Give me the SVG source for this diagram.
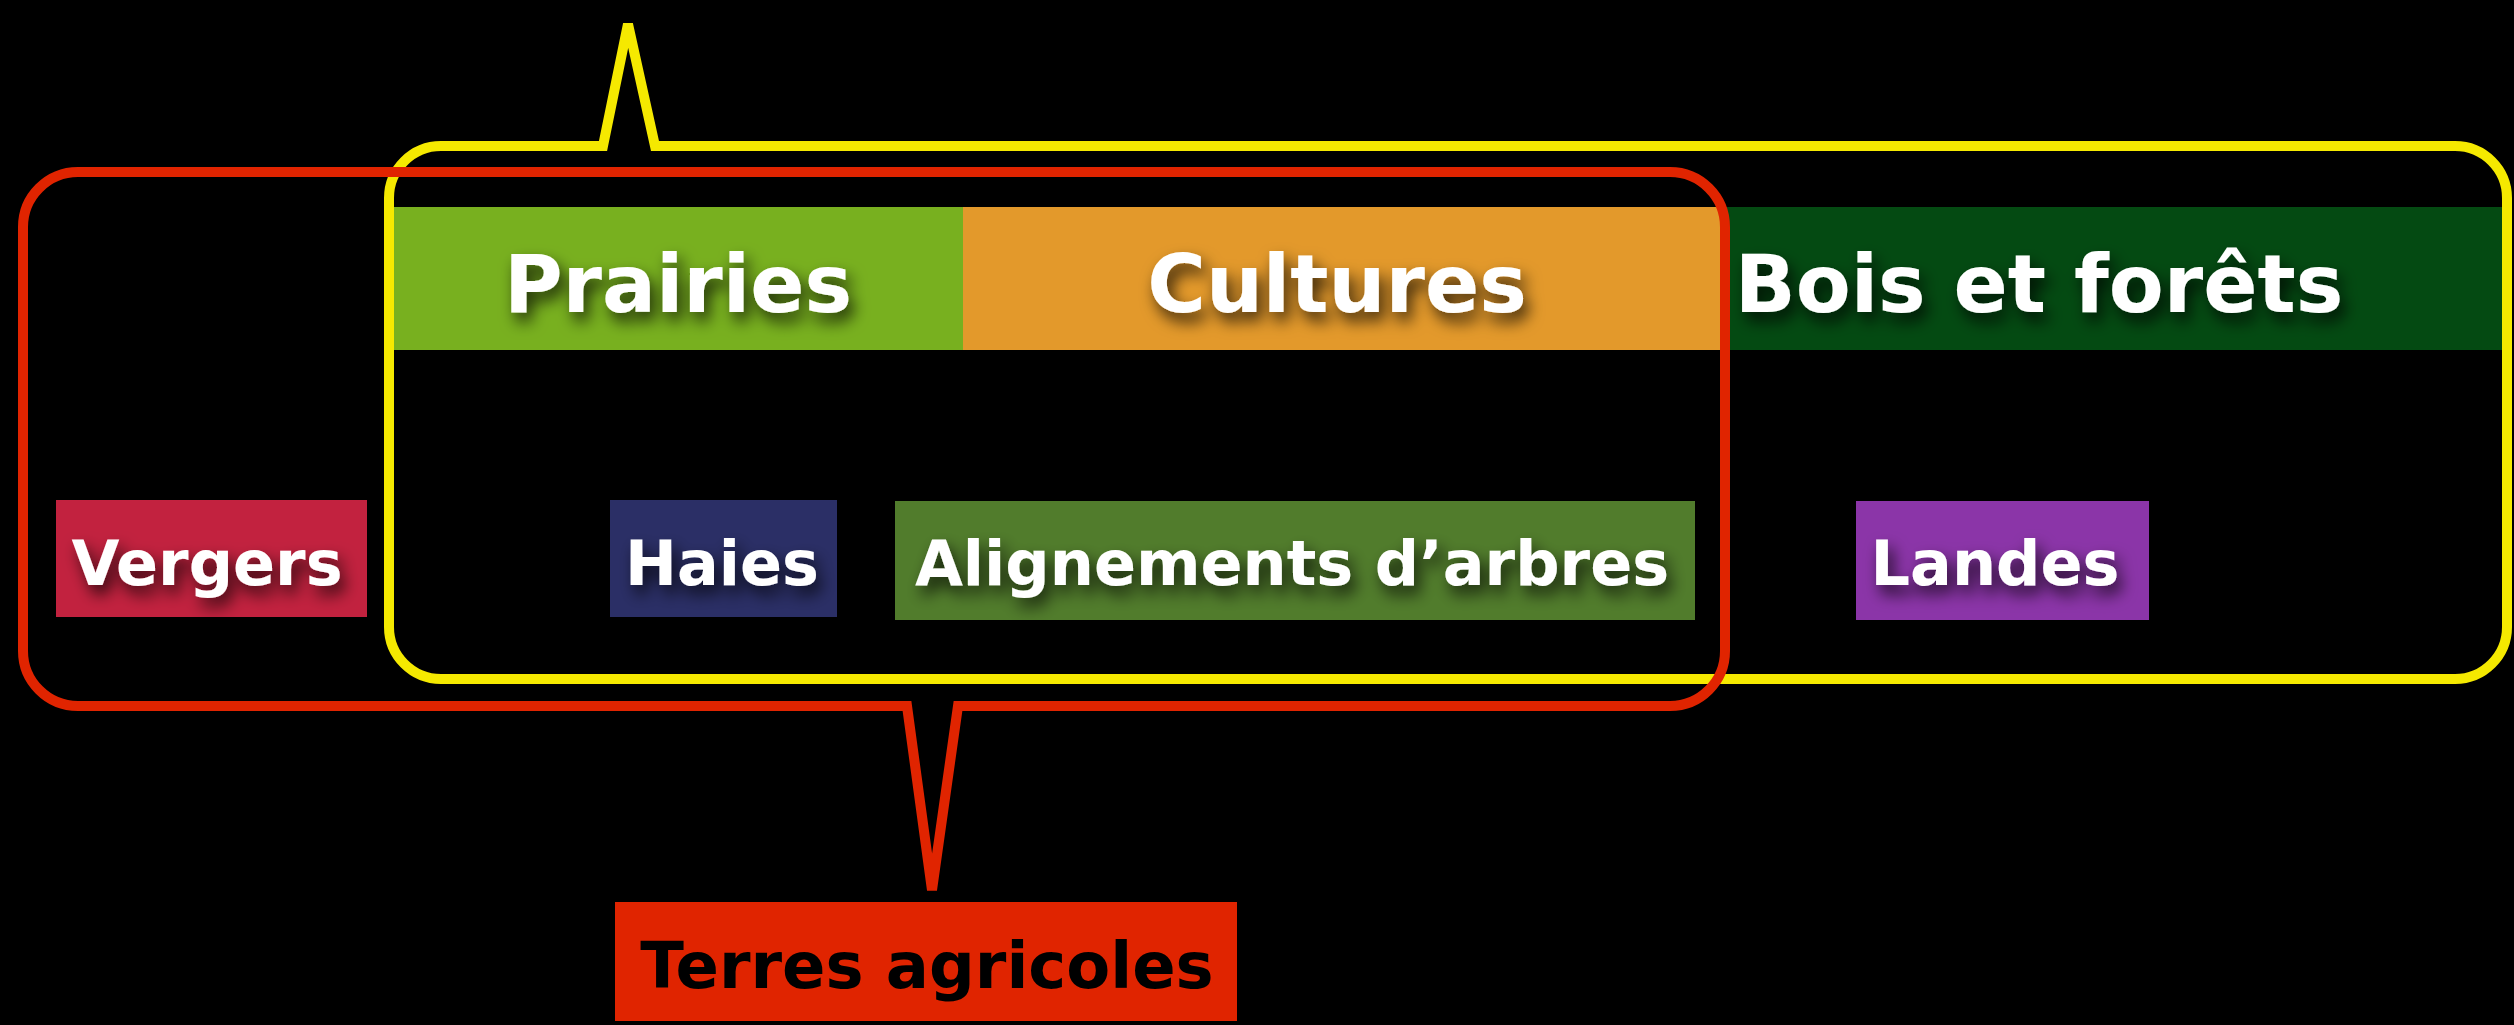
<svg xmlns="http://www.w3.org/2000/svg" width="2514" height="1025" viewBox="0 0 2514 1025">
<defs>
<style>
.lbl{font-family:"DejaVu Sans","Verdana",sans-serif;font-weight:bold;fill:#ffffff;text-anchor:middle;filter:url(#sh)}
.big{font-size:80px}
.sm{font-size:62px}
.outline{fill:none;stroke-width:10;stroke-linejoin:miter;stroke-miterlimit:4}
</style>
<filter id="sh" x="-10%" y="-30%" width="125%" height="190%">
<feDropShadow dx="5" dy="9" stdDeviation="8" flood-color="#000000" flood-opacity="0.75"/>
</filter>
</defs>
<rect x="0" y="0" width="2514" height="1025" fill="#000000"/>
<g id="prairies">
<rect x="390" y="207" width="573" height="143" fill="#78B01F"/>
<text class="lbl big" x="678" y="312">Prairies</text>
</g>
<g id="cultures">
<rect x="963" y="207" width="762" height="143" fill="#E3992B"/>
<text class="lbl big" x="1337" y="312">Cultures</text>
</g>
<g id="bois">
<rect x="1725" y="207" width="782" height="143" fill="#044A12"/>
<text class="lbl big" x="2039" y="312">Bois et forêts</text>
</g>
<g id="vergers">
<rect x="56" y="500" width="311" height="117" fill="#C2223F"/>
<text class="lbl sm" x="207" y="585">Vergers</text>
</g>
<g id="haies">
<rect x="610" y="500" width="227" height="117" fill="#2B2F66"/>
<text class="lbl sm" x="722" y="585">Haies</text>
</g>
<g id="alignements">
<rect x="895" y="501" width="800" height="119" fill="#517C2C"/>
<text class="lbl sm" x="1292" y="585">Alignements d’arbres</text>
</g>
<g id="landes">
<rect x="1856" y="501" width="293" height="119" fill="#8B35A8"/>
<text class="lbl sm" x="1995" y="585">Landes</text>
</g>
<g id="connectors">
<path id="yellow-group" class="outline" stroke="#F5E900" d="M441,146 L603,146 L628,24 L655,146 L2455,146 A52,52 0 0 1 2507,198 L2507,627 A52,52 0 0 1 2455,679 L441,679 A52,52 0 0 1 389,627 L389,198 A52,52 0 0 1 441,146 Z"/>
<path id="red-group" class="outline" stroke="#E02400" d="M78,172 L1670,172 A55,55 0 0 1 1725,227 L1725,651 A55,55 0 0 1 1670,706 L958,706 L932,890 L907,706 L78,706 A55,55 0 0 1 23,651 L23,227 A55,55 0 0 1 78,172 Z"/>
</g>
<g id="terres">
<rect x="615" y="902" width="622" height="119" fill="#E02400"/>
<text x="927" y="988" font-family="DejaVu Sans, Verdana, sans-serif" font-weight="bold" font-size="64" fill="#000000" text-anchor="middle">Terres agricoles</text>
</g>
</svg>
